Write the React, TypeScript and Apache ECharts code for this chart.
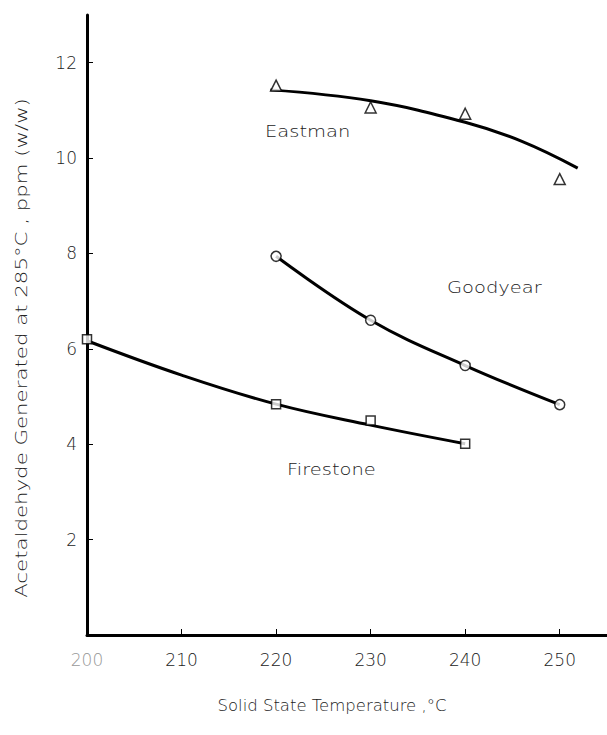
import React, { useEffect, useRef } from "react";
import * as echarts from "echarts";

// Measured points (temperature °C, acetaldehyde ppm)
const eastmanPoints = [[220, 11.52], [230, 11.06], [240, 10.93], [250, 9.56]];
const goodyearPoints = [[220, 7.94], [230, 6.6], [240, 5.65], [250, 4.83]];
const firestonePoints = [[200, 6.2], [220, 4.84], [230, 4.5], [240, 4.01]];

// Fitted curves
const eastmanCurve = [[219.4, 11.43], [230, 11.2], [240, 10.75], [246, 10.35], [251.9, 9.79]];
const goodyearCurve = [[220, 7.94], [230, 6.6], [240, 5.65], [250, 4.83]];
const firestoneCurve = [[200, 6.17], [210, 5.45], [220, 4.84], [230, 4.4], [240, 4.01]];

const xTicks = [200, 210, 220, 230, 240, 250];
const yTicks = [2, 4, 6, 8, 10, 12];

const seriesLabels = [
  { text: "Eastman", x: 265, y: 132 },
  { text: "Goodyear", x: 447, y: 288 },
  { text: "Firestone", x: 287, y: 470 },
];

const FONT = "DejaVu Sans";
const INK = "#222";

export default function App() {
  const ref = useRef<HTMLDivElement>(null);
  useEffect(() => {
    if (!ref.current) return;
    const chart = echarts.init(ref.current, null, { renderer: "svg" });
    const curve = (data: number[][]) => ({
      type: "line",
      data,
      smooth: 0.4,
      showSymbol: false,
      symbol: "none",
      lineStyle: { color: "#000", width: 3 },
      z: 2,
    });
    const markers = (data: number[][], symbol: string, size: number) => ({
      type: "scatter",
      data,
      symbol,
      symbolSize: size,
      itemStyle: { color: "#fff", borderColor: "#000", borderWidth: 1.5 },
      z: 3,
    });
    chart.setOption({
      animation: false,
      backgroundColor: "#fff",
      grid: { left: 87, right: -5, top: 15, bottom: 100 },
      xAxis: {
        type: "value",
        min: 200,
        max: 255,
        interval: 10,
        axisLine: { show: true, lineStyle: { color: "#000", width: 3 } },
        axisTick: { show: true, inside: true, length: 6, lineStyle: { color: "#000", width: 1 } },
        splitLine: { show: false },
        axisLabel: {
          margin: 16,
          fontFamily: FONT,
          fontSize: 17,
          fontWeight: 200,
          color: INK,
          showMaxLabel: false,
          formatter: (v: number) => (xTicks.includes(v) ? (v === 200 ? "{faint|" + v + "}" : String(v)) : ""),
          rich: { faint: { color: "#999", fontFamily: FONT, fontSize: 17, fontWeight: 200 } },
        },
      },
      yAxis: {
        type: "value",
        min: 0,
        max: 13,
        interval: 2,
        axisLine: { show: true, lineStyle: { color: "#000", width: 3 } },
        axisTick: { show: true, inside: true, length: 6, lineStyle: { color: "#000", width: 1 } },
        splitLine: { show: false },
        axisLabel: {
          margin: 10,
          fontFamily: FONT,
          fontSize: 17,
          fontWeight: 200,
          color: INK,
          showMaxLabel: false,
          formatter: (v: number) => (yTicks.includes(v) ? String(v) : ""),
        },
      },
      series: [
        curve(eastmanCurve),
        curve(goodyearCurve),
        curve(firestoneCurve),
        markers(eastmanPoints, "triangle", 11),
        markers(goodyearPoints, "circle", 10),
        markers(firestonePoints, "rect", 9),
      ],
      graphic: [
        ...seriesLabels.map((l) => ({
          type: "text",
          x: l.x,
          y: l.y,
          scaleX: 1.3,
          style: {
            text: l.text,
            fontFamily: FONT,
            fontSize: 15,
            fontWeight: 200,
            fill: INK,
            align: "left",
            verticalAlign: "middle",
          },
        })),
        {
          type: "text",
          x: 22,
          y: 348,
          rotation: Math.PI / 2,
          scaleX: 1.42,
          style: {
            text: "Acetaldehyde Generated at 285°C , ppm (w/w)",
            fontFamily: FONT,
            fontSize: 15,
            fontWeight: 200,
            fill: INK,
            align: "center",
            verticalAlign: "middle",
          },
        },
        {
          type: "text",
          x: 332,
          y: 706,
          scaleX: 1.1,
          style: {
            text: "Solid State Temperature ,°C",
            fontFamily: FONT,
            fontSize: 15,
            fontWeight: 200,
            fill: INK,
            align: "center",
            verticalAlign: "middle",
          },
        },
      ],
    });
    return () => chart.dispose();
  }, []);
  return (
    <div
      ref={ref}
      style={{ position: "fixed", left: 0, top: 0, width: 607, height: 735, background: "#fff" }}
    />
  );
}
